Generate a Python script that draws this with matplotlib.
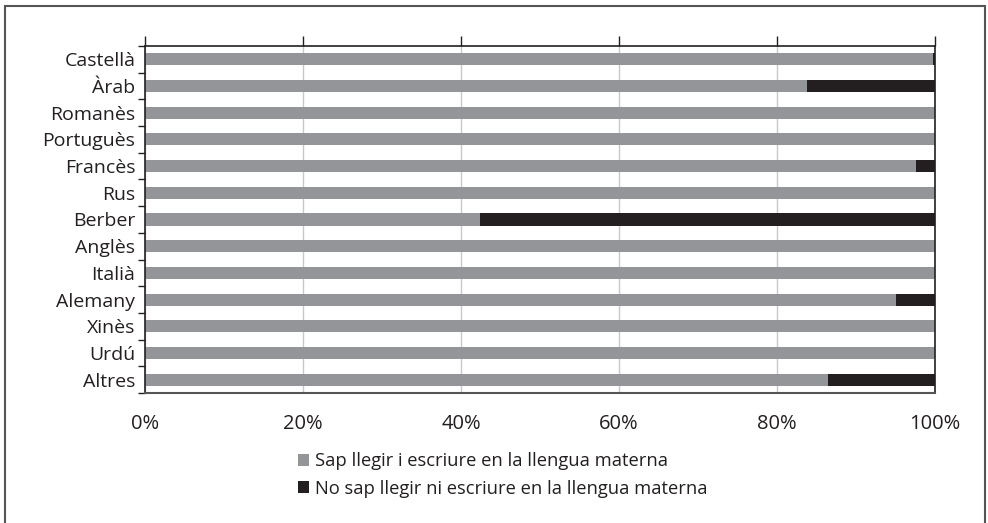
import numpy as np
import matplotlib
matplotlib.use("Agg")
import matplotlib.pyplot as plt
from matplotlib.patches import Rectangle
from matplotlib.ticker import FixedLocator, PercentFormatter

plt.rcParams['font.family'] = ['Open Sans', 'DejaVu Sans']

langs = ['Castellà', 'Àrab', 'Romanès', 'Portuguès', 'Francès', 'Rus', 'Berber',
         'Anglès', 'Italià', 'Alemany', 'Xinès', 'Urdú', 'Altres']
sap = [99.7, 83.8, 100, 100, 97.6, 100, 42.4, 100, 100, 95.1, 100, 100, 86.5]
no_sap = [0.3, 16.2, 0, 0, 2.4, 0, 57.6, 0, 0, 4.9, 0, 0, 13.5]
legend_labels = ['Sap llegir i escriure en la llengua materna',
                 'No sap llegir ni escriure en la llengua materna']

grey = '#939598'
black = '#231f20'

fig = plt.figure(figsize=(9.88, 5.23), dpi=100)
ax = fig.add_axes([145/988, 1 - 393/523, 790/988, 347/523])

y = np.arange(len(langs))
ax.barh(y, sap, height=0.45, color=grey, label=legend_labels[0], zorder=2)
ax.barh(y, no_sap, left=sap, height=0.45, color=black, label=legend_labels[1], zorder=2)

ax.set_ylim(len(langs) - 0.5, -0.5)
ax.set_xlim(0, 100)
ax.set_yticks(y)
ax.set_yticklabels(langs, fontsize=14, color='#231f20')
ax.yaxis.set_minor_locator(FixedLocator(np.arange(-0.5, len(langs), 1)))
ax.tick_params(axis='y', which='major', length=0, pad=7)
ax.tick_params(axis='y', which='minor', length=5, width=1, color='#231f20', direction='out')

ax.set_xticks(np.arange(0, 101, 20))
ax.xaxis.set_major_formatter(PercentFormatter(decimals=0))
ax.tick_params(axis='x', top=True, bottom=False, labelbottom=True, length=7, width=1,
               color='#231f20', labelsize=14.5, labelcolor='#231f20', pad=8)
ax.grid(axis='x', color='#c8c8c8', linewidth=1, zorder=0)

for side in ['top', 'left', 'right']:
    ax.spines[side].set_color('#231f20')
    ax.spines[side].set_linewidth(1.2)
ax.spines['bottom'].set_color('#555555')
ax.spines['bottom'].set_linewidth(1.5)

leg = fig.legend(loc='center', bbox_to_anchor=(503/988, 1 - 475/523), frameon=False,
                 fontsize=13.2, handlelength=0.6, handleheight=0.6, handletextpad=0.35,
                 labelspacing=0.5)
for t in leg.get_texts():
    t.set_color('#231f20')

fig.patches.append(Rectangle((5/988, -0.1), 980/988, 1.1 - 6/523, transform=fig.transFigure,
                             fill=False, edgecolor='#555555', linewidth=1.5))

fig.savefig('out.png', dpi=100)
